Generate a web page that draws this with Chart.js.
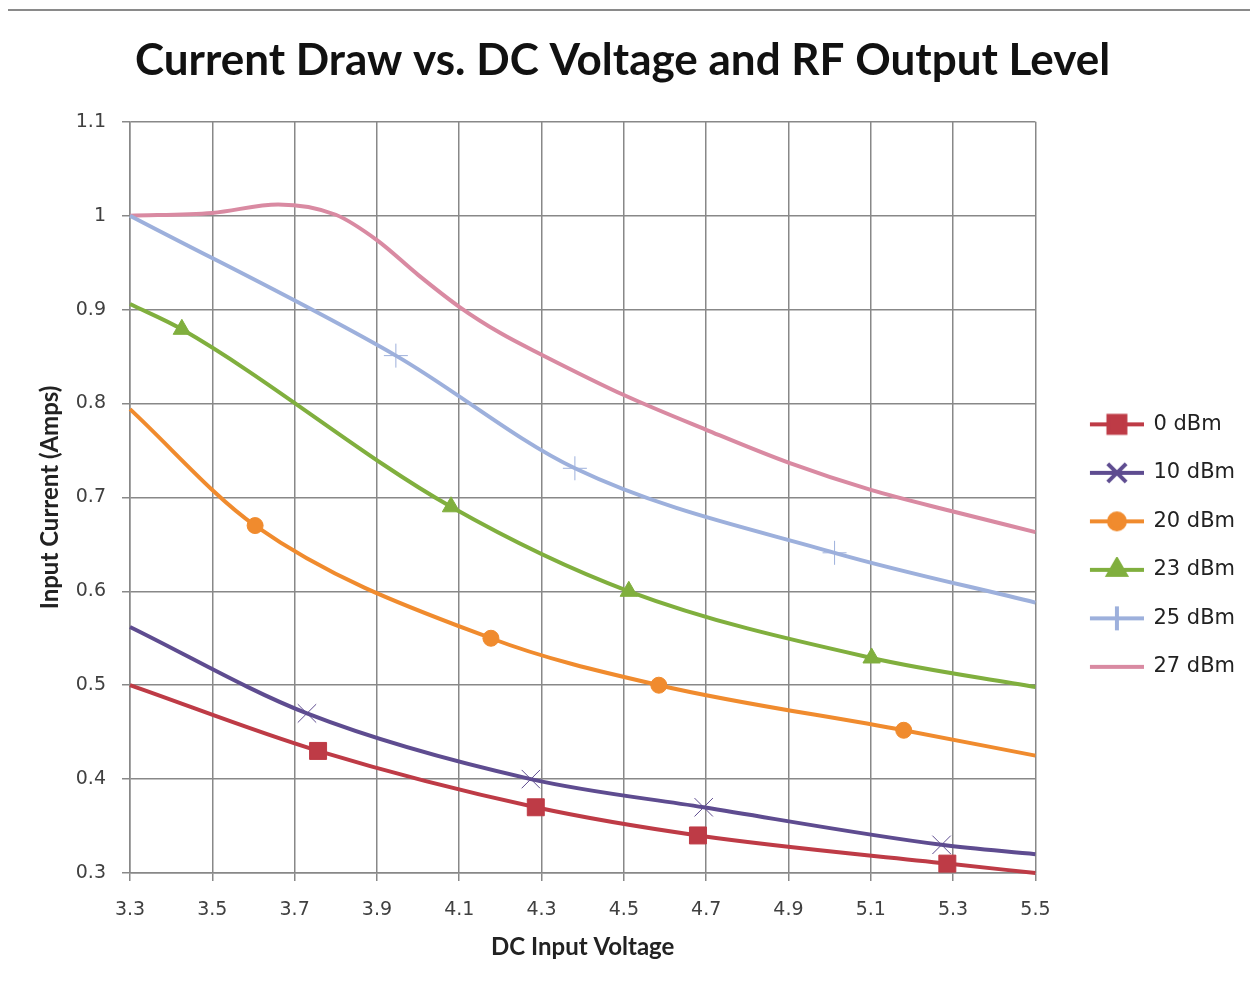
<!DOCTYPE html>
<html>
<head>
<meta charset="utf-8">
<script src="https://cdn.jsdelivr.net/npm/chart.js@4.4.1/dist/chart.umd.min.js"></script>
<style>
html, body { margin: 0; padding: 0; background: #fff; }
#wrap { width: 1250px; height: 990px; }
</style>
</head>
<body>
<div id="wrap"><canvas id="myChart" width="1250" height="990"></canvas></div>
<script>
// axis ticks
const xTicks = [3.3, 3.5, 3.7, 3.9, 4.1, 4.3, 4.5, 4.7, 4.9, 5.1, 5.3, 5.5];
const yTicks = [0.3, 0.4, 0.5, 0.6, 0.7, 0.8, 0.9, 1.0, 1.1];

const seriesNames = ['0 dBm', '10 dBm', '20 dBm', '23 dBm', '25 dBm', '27 dBm'];

// values (volts, amps)
const volts0 = [3.3, 3.757, 4.286, 4.68, 5.286, 5.5];
const amps0 = [0.50, 0.43, 0.37, 0.34, 0.31, 0.30];

const volts10 = [3.3, 3.73, 4.274, 4.694, 5.272, 5.5];
const amps10 = [0.562, 0.47, 0.40, 0.37, 0.33, 0.32];

const volts20 = [3.3, 3.604, 4.177, 4.585, 5.18, 5.5];
const amps20 = [0.794, 0.67, 0.55, 0.50, 0.452, 0.425];

const volts23 = [3.3, 3.426, 4.08, 4.512, 5.102, 5.5];
const amps23 = [0.906, 0.879, 0.69, 0.60, 0.529, 0.498];

const volts25 = [3.3, 3.946, 4.381, 5.012, 5.5];
const amps25 = [1.0, 0.851, 0.731, 0.641, 0.588];

const volts27 = [3.3, 3.5, 3.66, 3.8, 3.9, 4.0, 4.1, 4.2, 4.3, 4.5, 4.7, 4.9, 5.1, 5.3, 5.5];
const amps27 = [1.0, 1.003, 1.012, 1.001, 0.974, 0.937, 0.903, 0.875, 0.852, 0.809, 0.772, 0.737, 0.708, 0.685, 0.663];

const allVolts = [volts0, volts10, volts20, volts23, volts25, volts27];
const allAmps = [amps0, amps10, amps20, amps23, amps25, amps27];

// styles
const lineColors = ['#BE3B46', '#5E4C90', '#F08B2E', '#80AF3E', '#9DB0DC', '#D98AA2'];
const markerStyles = ['rect', 'crossRot', 'circle', 'triangle', 'cross', false];
const markerSizes = [12, 13, 8, 10, 12, 0];
const markerBorders = [1, 1, 1, 1, 1, 0];

const titleFont = 'Lato, "Open Sans", sans-serif';
const labelFont = '"DejaVu Sans", Verdana, sans-serif';

// legend swatch: transparent gap on the left, then line with marker
function legendImage(i) {
  const c = document.createElement('canvas');
  c.width = 82; c.height = 26;
  const g = c.getContext('2d');
  g.strokeStyle = lineColors[i];
  g.lineWidth = 4;
  g.beginPath(); g.moveTo(28, 13); g.lineTo(82, 13); g.stroke();
  if (markerStyles[i]) {
    g.fillStyle = lineColors[i];
    g.strokeStyle = lineColors[i];
    Chart.helpers.drawPoint(g, {
      pointStyle: markerStyles[i],
      radius: markerSizes[i],
      borderWidth: markerBorders[i],
      rotation: 0
    }, 55, 13);
  }
  return c;
}

const datasets = seriesNames.map((name, i) => ({
  label: name,
  data: allVolts[i].map((v, k) => ({ x: v, y: allAmps[i][k] })),
  borderColor: lineColors[i],
  backgroundColor: lineColors[i],
  borderWidth: 4,
  cubicInterpolationMode: 'monotone',
  pointStyle: markerStyles[i] || 'circle',
  pointBorderWidth: markerBorders[i],
  pointRadius: ctx => {
    const n = allVolts[i].length;
    if (!markerStyles[i] || ctx.dataIndex === 0 || ctx.dataIndex === n - 1) return 0;
    return markerSizes[i];
  },
  pointHoverRadius: 0,
  clip: false
}));

const topLine = {
  id: 'topLine',
  beforeDraw(chart) {
    const c = chart.ctx;
    c.save();
    c.fillStyle = '#fff';
    c.fillRect(0, 0, chart.width, chart.height);
    c.strokeStyle = '#8a8a8a';
    c.lineWidth = 2;
    c.beginPath(); c.moveTo(8, 10); c.lineTo(1250, 10); c.stroke();
    c.restore();
  }
};

const ctx = document.getElementById('myChart').getContext('2d');
const myChart = new Chart(ctx, {
  type: 'line',
  data: { datasets: datasets },
  plugins: [topLine],
  options: {
    responsive: false,
    animation: false,
    devicePixelRatio: 1,
    layout: { padding: { left: 0, right: 5, top: 0, bottom: 0 } },
    plugins: {
      title: {
        display: true,
        text: 'Current Draw vs. DC Voltage and RF Output Level',
        color: '#111',
        font: { family: titleFont, size: 44, weight: 'bold' },
        padding: { top: 34, bottom: 35 }
      },
      legend: {
        position: 'right',
        title: { display: true, text: ' ', font: { size: 1 }, padding: 50 },
        labels: {
          color: '#222',
          font: { family: labelFont, size: 21 },
          usePointStyle: true,
          pointStyleWidth: 80,
          padding: 27.5,
          generateLabels: chart => seriesNames.map((name, i) => ({
            text: name,
            pointStyle: legendImage(i),
            fontColor: '#222',
            datasetIndex: i,
            hidden: false,
            lineWidth: 0
          }))
        }
      },
      tooltip: { enabled: false }
    },
    scales: {
      x: {
        type: 'linear',
        min: 3.3,
        max: 5.5,
        afterBuildTicks: s => { s.ticks = xTicks.map(v => ({ value: v })); },
        afterFit: s => { s.height = 117; },
        grid: { color: '#888', lineWidth: 1.5, tickLength: 8 },
        border: { color: '#888', width: 1.5 },
        ticks: {
          color: '#404040',
          font: { family: labelFont, size: 19 },
          padding: 18,
          maxRotation: 0,
          callback: v => String(+v.toFixed(1))
        },
        title: {
          display: true,
          text: 'DC Input Voltage',
          color: '#222',
          font: { family: titleFont, size: 24, weight: 'bold' },
          padding: { bottom: 28 }
        }
      },
      y: {
        type: 'linear',
        min: 0.3,
        max: 1.1,
        afterBuildTicks: s => { s.ticks = yTicks.map(v => ({ value: v })); },
        afterFit: s => { s.width = 130; },
        grid: { color: '#888', lineWidth: 1.5, tickLength: 8 },
        border: { color: '#888', width: 1.5 },
        ticks: {
          color: '#404040',
          font: { family: labelFont, size: 19 },
          padding: 16,
          callback: v => String(+v.toFixed(1))
        },
        title: {
          display: true,
          text: 'Input Current (Amps)',
          color: '#222',
          font: { family: titleFont, size: 24, weight: 'bold' },
          padding: { top: 36 }
        }
      }
    }
  }
});
</script>
</body>
</html>
